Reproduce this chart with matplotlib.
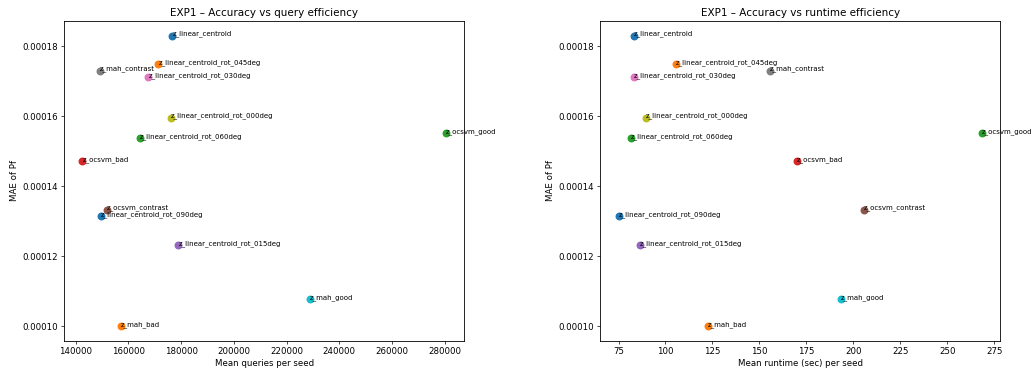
import matplotlib
matplotlib.use("Agg")
import matplotlib.pyplot as plt

methods = [
    "z_linear_centroid", "z_mah_bad", "z_ocsvm_good", "z_ocsvm_bad",
    "z_linear_centroid_rot_015deg", "z_ocsvm_contrast", "z_linear_centroid_rot_030deg",
    "z_mah_contrast", "z_linear_centroid_rot_000deg", "z_mah_good",
    "z_linear_centroid_rot_090deg", "z_linear_centroid_rot_045deg", "z_linear_centroid_rot_060deg",
]
mae_pf = [
    0.0001831, 0.0001000, 0.0001553, 0.0001472,
    0.0001231, 0.0001333, 0.0001712,
    0.0001731, 0.0001596, 0.0001078,
    0.0001314, 0.0001749, 0.0001538,
]
mean_queries = [
    176640, 157110, 280530, 142550,
    178920, 151780, 167520,
    149270, 176110, 228720,
    149650, 171300, 164330,
]
mean_runtime = [
    83.2, 122.5, 268.5, 170.1,
    86.5, 205.5, 83.3,
    155.4, 89.4, 193.2,
    75.0, 105.5, 81.5,
]

fig = plt.figure(figsize=(10.34, 3.73), dpi=100)
ax1 = fig.add_axes([0.0622, 0.0866, 0.3868, 0.8571])
ax2 = fig.add_axes([0.5806, 0.0866, 0.3868, 0.8571])

tick_fs = 6.2
for ax, xs, title, xlabel in [
    (ax1, mean_queries, "EXP1 \u2013 Accuracy vs query efficiency", "Mean queries per seed"),
    (ax2, mean_runtime, "EXP1 \u2013 Accuracy vs runtime efficiency", "Mean runtime (sec) per seed"),
]:
    for name, x, y in zip(methods, xs, mae_pf):
        ax.scatter([x], [y], s=22)
        ax.text(x, y, name, fontsize=5.0)
    ax.set_title(title, fontsize=7.5, pad=3.7)
    ax.set_xlabel(xlabel, fontsize=tick_fs, labelpad=2.5)
    ax.set_ylabel("MAE of Pf", fontsize=tick_fs, labelpad=2.5)
    ax.tick_params(labelsize=tick_fs, length=2.2, pad=2.2, width=0.5)
    for sp in ax.spines.values():
        sp.set_linewidth(0.6)

fig.savefig("out.png", dpi=100)
